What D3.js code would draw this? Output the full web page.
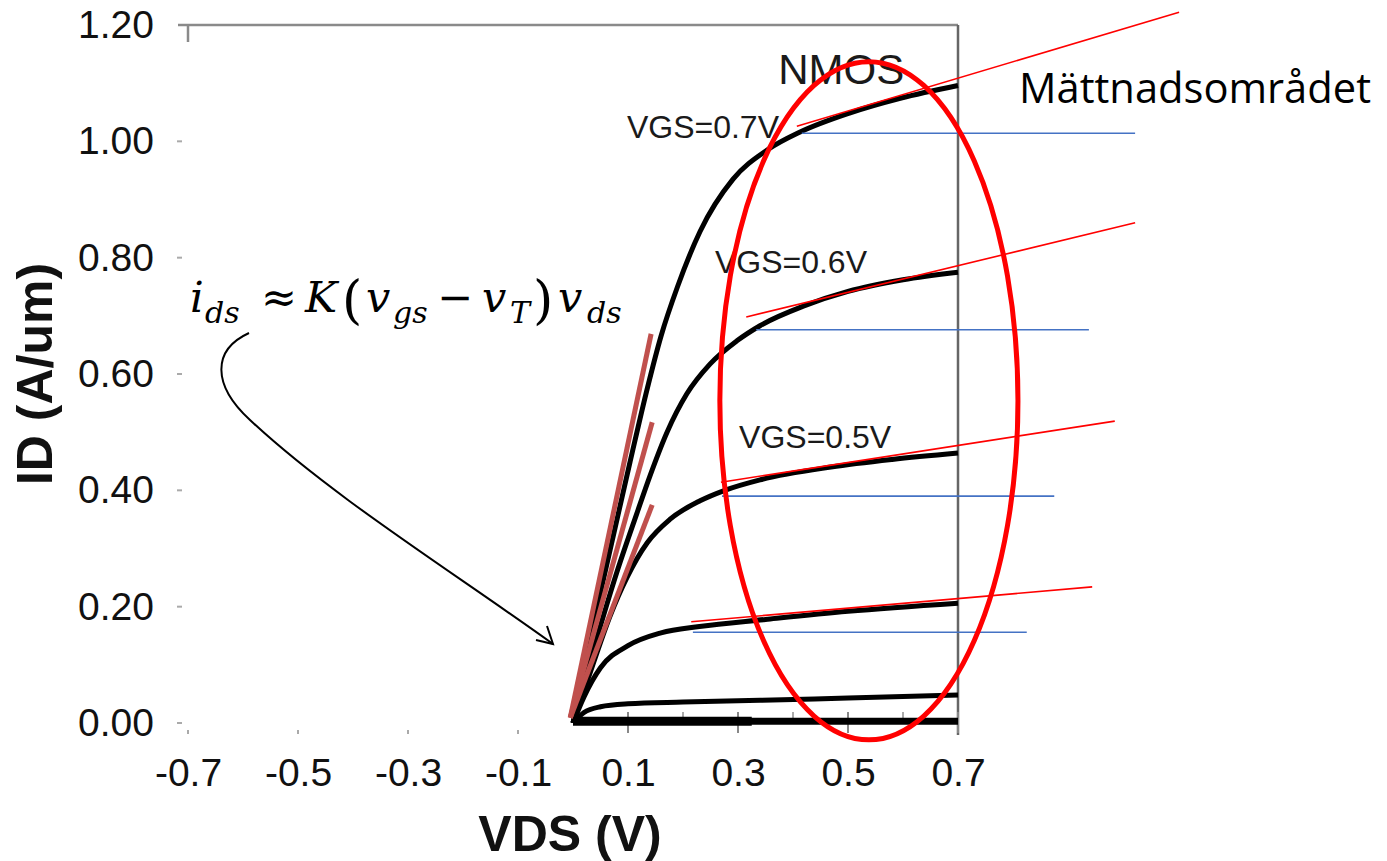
<!DOCTYPE html>
<html>
<head>
<meta charset="utf-8">
<script src="https://cdn.jsdelivr.net/npm/d3@7"></script>
<style>
  body { margin: 0; background: #fff; }
  svg { display: block; }
  .tick text { font-family: "Liberation Sans", Arial, sans-serif; font-size: 39px; fill: #111; }
</style>
</head>
<body>
<svg id="chart" width="1387" height="861"></svg>
<script>
// axis ticks
const xTicks = [-0.7, -0.5, -0.3, -0.1, 0.1, 0.3, 0.5, 0.7];
const xMinorTicks = [0.2, 0.4, 0.6];
const yTicks = [0, 0.2, 0.4, 0.6, 0.8, 1.0, 1.2];

// ID-VDS curves, [VDS, ID]
const vgs07 = [[0,0],[0.05,0.225],[0.104,0.45],[0.135,0.575],[0.16,0.665],[0.19,0.75],[0.231,0.845],[0.291,0.935],[0.353,0.985],[0.413,1.016],[0.504,1.049],[0.595,1.074],[0.7,1.096]];
const vgs06 = [[0,0],[0.04,0.135],[0.08,0.26],[0.116,0.36],[0.14,0.425],[0.171,0.5],[0.207,0.566],[0.249,0.617],[0.298,0.657],[0.34,0.683],[0.42,0.717],[0.5,0.742],[0.6,0.762],[0.7,0.775]];
const vgs05 = [[0,0],[0.036,0.1],[0.067,0.183],[0.098,0.25],[0.135,0.31],[0.176,0.35],[0.231,0.382],[0.276,0.4],[0.34,0.418],[0.469,0.44],[0.58,0.453],[0.7,0.464]];
const vgs04 = [[0,0],[0.02,0.045],[0.05,0.095],[0.1,0.133],[0.16,0.155],[0.23,0.166],[0.35,0.178],[0.5,0.192],[0.7,0.206]];
const vgs03 = [[0,0],[0.02,0.018],[0.05,0.028],[0.1,0.033],[0.2,0.036],[0.34,0.039],[0.5,0.043],[0.7,0.048]];
const vgs02 = [[0,0.003],[0.7,0.003]];
const vgs01 = [[0,0.003],[0.325,0.003]];

const curveLabels = [
  {text: "VGS=0.7V", vds: 0.098, id: 1.005},
  {text: "VGS=0.6V", vds: 0.258, id: 0.773},
  {text: "VGS=0.5V", vds: 0.302, id: 0.473}
];

// linear-region tangents from the origin, [x1, y1, x2, y2]
const tangents = [
  [-0.005, 0.009, 0.142, 0.669],
  [-0.005, 0.009, 0.144, 0.517],
  [-0.005, 0.009, 0.144, 0.375]
];
// saturation slope lines
const satLines = [
  [0.407, 1.026, 1.102, 1.222],
  [0.315, 0.698, 1.022, 0.860],
  [0.269, 0.414, 0.985, 0.519],
  [0.215, 0.174, 0.944, 0.234]
];
// ideal flat saturation lines
const flatLines = [
  [0.416, 1.014, 1.022, 1.014],
  [0.333, 0.676, 0.938, 0.676],
  [0.271, 0.390, 0.875, 0.390],
  [0.218, 0.156, 0.825, 0.156]
];
// saturation region ellipse: centre and radii in data units
const region = {cx: 0.538, cy: 0.554, rx: 0.271, ry: 0.583};

const svg = d3.select("#chart");

const x = d3.scaleLinear().domain([-0.7, 0.7]).range([188, 958]);
const y = d3.scaleLinear().domain([0, 1.2]).range([723, 25]);

// frame
svg.append("line")
  .attr("x1", x(-0.7) - 10).attr("x2", x(0.7))
  .attr("y1", y(1.2)).attr("y2", y(1.2))
  .attr("stroke", "#8a8a8a").attr("stroke-width", 2.5);
svg.append("line")
  .attr("x1", x(-0.7)).attr("x2", x(-0.7))
  .attr("y1", y(1.2)).attr("y2", y(1.2) + 17)
  .attr("stroke", "#8a8a8a").attr("stroke-width", 2.5);
svg.append("line")
  .attr("x1", x(0.7)).attr("x2", x(0.7))
  .attr("y1", y(1.2)).attr("y2", y(0) + 12)
  .attr("stroke", "#666").attr("stroke-width", 2.5);

// y tick dashes
svg.selectAll(".ydash").data(yTicks.slice(0, -1)).enter().append("line")
  .attr("x1", x(-0.7) - 11).attr("x2", x(-0.7) - 6)
  .attr("y1", d => y(d)).attr("y2", d => y(d))
  .attr("stroke", "#aaa").attr("stroke-width", 2);

// x tick marks
svg.selectAll(".xdot").data(xTicks.filter(d => d < 0)).enter().append("line")
  .attr("x1", d => x(d)).attr("x2", d => x(d))
  .attr("y1", y(0) + 7).attr("y2", y(0) + 11)
  .attr("stroke", "#aaa").attr("stroke-width", 2);
svg.selectAll(".xmajor").data(xTicks.filter(d => d > 0)).enter().append("line")
  .attr("x1", d => x(d)).attr("x2", d => x(d))
  .attr("y1", y(0) - 11).attr("y2", y(0) + 10)
  .attr("stroke", "#888").attr("stroke-width", 2);
svg.selectAll(".xminor").data(xMinorTicks).enter().append("line")
  .attr("x1", d => x(d)).attr("x2", d => x(d))
  .attr("y1", y(0) - 11).attr("y2", y(0) - 4)
  .attr("stroke", "#aaa").attr("stroke-width", 2);

// tick labels
const xAxis = svg.append("g")
  .attr("transform", "translate(0,758)")
  .call(d3.axisBottom(x).tickValues(xTicks).tickFormat(d => d.toFixed(1)).tickSize(0).tickPadding(0));
const yAxis = svg.append("g")
  .attr("transform", "translate(154,0)")
  .call(d3.axisLeft(y).tickValues(yTicks).tickFormat(d => d.toFixed(2)).tickSize(0).tickPadding(0));
xAxis.select(".domain").remove();
yAxis.select(".domain").remove();

// axis titles
svg.append("text")
  .attr("x", 570).attr("y", 851)
  .attr("text-anchor", "middle")
  .style("font-family", "Liberation Sans, Arial, sans-serif")
  .style("font-weight", "bold").style("font-size", "50px").style("fill", "#111")
  .text("VDS (V)");
svg.append("text")
  .attr("transform", "translate(52,374) rotate(-90)")
  .attr("text-anchor", "middle")
  .style("font-family", "Liberation Sans, Arial, sans-serif")
  .style("font-weight", "bold").style("font-size", "50px").style("fill", "#111")
  .text("ID (A/um)");

// curves
const line = d3.line()
  .x(d => x(d[0]))
  .y(d => y(d[1]))
  .curve(d3.curveMonotoneX);

[vgs03, vgs04, vgs05, vgs06, vgs07].forEach(c => {
  svg.append("path")
    .attr("d", line(c))
    .attr("fill", "none")
    .attr("stroke", "#000")
    .attr("stroke-width", 5);
});
svg.append("path").attr("d", line(vgs02))
  .attr("fill", "none").attr("stroke", "#000").attr("stroke-width", 7);
svg.append("path").attr("d", line(vgs01))
  .attr("fill", "none").attr("stroke", "#000").attr("stroke-width", 9);

// texts inside the plot
svg.append("text")
  .attr("x", x(0.373)).attr("y", y(1.098))
  .style("font-family", "Liberation Sans, Arial, sans-serif")
  .style("font-size", "42px").style("fill", "#1a1a1a")
  .text("NMOS");
svg.selectAll(".vgs").data(curveLabels).enter().append("text")
  .attr("x", d => x(d.vds)).attr("y", d => y(d.id))
  .style("font-family", "Liberation Sans, Arial, sans-serif")
  .style("font-size", "32px").style("fill", "#1a1a1a")
  .text(d => d.text);

// annotation lines
svg.selectAll(".flat").data(flatLines).enter().append("line")
  .attr("x1", d => x(d[0])).attr("y1", d => y(d[1]))
  .attr("x2", d => x(d[2])).attr("y2", d => y(d[3]))
  .attr("stroke", "#4472c4").attr("stroke-width", 1.6);
svg.selectAll(".sat").data(satLines).enter().append("line")
  .attr("x1", d => x(d[0])).attr("y1", d => y(d[1]))
  .attr("x2", d => x(d[2])).attr("y2", d => y(d[3]))
  .attr("stroke", "#ff0000").attr("stroke-width", 1.6);
svg.selectAll(".tan").data(tangents).enter().append("line")
  .attr("x1", d => x(d[0])).attr("y1", d => y(d[1]))
  .attr("x2", d => x(d[2])).attr("y2", d => y(d[3]))
  .attr("stroke", "#c0504d").attr("stroke-width", 5);

svg.append("ellipse")
  .attr("cx", x(region.cx)).attr("cy", y(region.cy))
  .attr("rx", x(region.cx + region.rx) - x(region.cx))
  .attr("ry", y(region.cy) - y(region.cy + region.ry))
  .attr("fill", "none").attr("stroke", "#ff0000").attr("stroke-width", 5);

svg.append("text")
  .attr("x", 1019).attr("y", 103)
  .attr("textLength", 352).attr("lengthAdjust", "spacingAndGlyphs")
  .style("font-family", "Open Sans, Noto Sans, sans-serif")
  .style("font-size", "42px").style("fill", "#000")
  .text("Mättnadsområdet");

// formula
const f = svg.append("text")
  .attr("y", 312)
  .style("font-family", "DejaVu Serif, Liberation Serif, serif")
  .style("font-size", "43px").style("fill", "#000");
const parts = [
  {t: "i", x: 190},
  {t: "ds", x: 205, sub: true},
  {t: "≈", x: 261, up: true},
  {t: "K", x: 305},
  {t: "(", x: 342, up: true, big: true},
  {t: "v", x: 366},
  {t: "gs", x: 393, sub: true},
  {t: "−", x: 437, up: true},
  {t: "v", x: 482},
  {t: "T", x: 510, sub: true},
  {t: ")", x: 533, up: true, big: true},
  {t: "v", x: 558},
  {t: "ds", x: 587, sub: true}
];
parts.forEach(p => {
  f.append("tspan")
    .attr("x", p.x)
    .attr("y", p.sub ? 323 : (p.big ? 318 : 312))
    .style("font-size", p.sub ? "30px" : (p.big ? "52px" : "43px"))
    .style("font-style", p.up ? "normal" : "italic")
    .text(p.t);
});

// arrow from formula to origin
svg.append("path")
  .attr("d", "M249,333 C212,350 212,385 250,420 C330,495 450,570 553,644")
  .attr("fill", "none").attr("stroke", "#000").attr("stroke-width", 2);
svg.append("path")
  .attr("d", "M547,626 L553,644 L536,640")
  .attr("fill", "none").attr("stroke", "#000").attr("stroke-width", 2);
</script>
</body>
</html>
